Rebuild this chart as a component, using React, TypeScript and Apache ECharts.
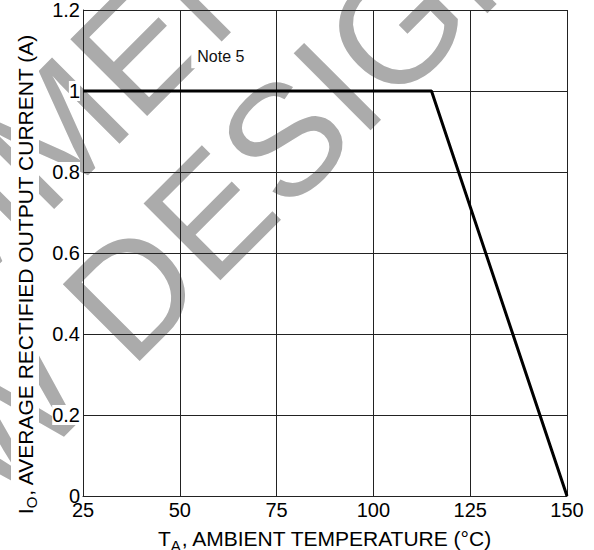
import React, { useEffect, useRef } from 'react';
import * as echarts from 'echarts';

// Data
const temps = [25, 115, 150];
const currents = [1, 1, 0];
const xTicks = [25, 50, 75, 100, 125, 150];
const yTicks = [0, 0.2, 0.4, 0.6, 0.8, 1, 1.2];
const noteText = 'Note 5';
const notePos = [60.6, 1.086];
const watermarkLines = ['NOT RECOMMENDED FOR', 'NEW DESIGN'];

const FONT = '"Liberation Sans", Arial, Helvetica, sans-serif';

export default function App() {
  const ref = useRef<HTMLDivElement>(null);
  useEffect(() => {
    const chart = echarts.init(ref.current!, null, { renderer: 'svg' });
    const xMin = xTicks[0];
    const xMax = xTicks[xTicks.length - 1];
    const yMin = yTicks[0];
    const yMax = yTicks[yTicks.length - 1];
    chart.setOption({
      animation: false,
      backgroundColor: '#fff',
      textStyle: { fontFamily: FONT },
      grid: {
        left: 83,
        right: 27,
        top: 10,
        bottom: 54,
        containLabel: false,
        outerBoundsMode: 'none',
      },
      xAxis: {
        type: 'value',
        z: 5,
        min: xMin,
        max: xMax,
        interval: xTicks[1] - xTicks[0],
        name: 'T{sub|A}, AMBIENT TEMPERATURE (°C)',
        nameLocation: 'middle',
        nameGap: 22,
        nameTextStyle: {
          fontSize: 21,
          color: '#000',
          fontFamily: FONT,
          lineHeight: 28,
          rich: { sub: { fontSize: 15, lineHeight: 16, verticalAlign: 'bottom', fontFamily: FONT, color: '#000' } },
        },
        axisLine: { lineStyle: { color: '#222', width: 1 } },
        axisTick: { show: false },
        axisLabel: { fontSize: 20, color: '#000', margin: 4, fontFamily: FONT },
        splitLine: { show: true, lineStyle: { color: '#222', width: 1 } },
      },
      yAxis: {
        type: 'value',
        z: 5,
        min: yMin,
        max: yMax,
        interval: 0.2,
        name: 'I{sub|O}, AVERAGE RECTIFIED OUTPUT CURRENT (A)',
        nameLocation: 'middle',
        nameGap: 44,
        nameTextStyle: {
          fontSize: 21,
          color: '#000',
          fontFamily: FONT,
          lineHeight: 28,
          backgroundColor: '#fff',
          padding: [0, 42, 0, 0],
          rich: { sub: { fontSize: 15, lineHeight: 16, verticalAlign: 'bottom', fontFamily: FONT, color: '#000' } },
        },
        axisLine: { show: true, lineStyle: { color: '#222', width: 1 } },
        axisTick: { show: false },
        axisLabel: {
          fontSize: 20,
          color: '#000',
          margin: 3,
          fontFamily: FONT,
          backgroundColor: '#fff',
          formatter: (v: number) => String(Math.round(v * 10) / 10),
        },
        splitLine: { show: true, lineStyle: { color: '#222', width: 1 } },
      },
      series: [
        {
          type: 'line',
          data: temps.map((t, i) => [t, currents[i]]),
          showSymbol: false,
          symbol: 'none',
          lineStyle: { color: '#000', width: 3 },
          z: 8,
        },
      ],
    });

    const [nx, ny] = chart.convertToPixel({ gridIndex: 0 }, notePos) as number[];
    const F = 158;
    const gap = 168;
    const c2 = [160, 263];
    const c1 = [c2[0] - 0.7071 * gap, c2[1] - 0.7071 * gap];
    chart.setOption({
      graphic: [
        {
          type: 'text',
          x: c1[0],
          y: c1[1],
          rotation: Math.PI / 4,
          z: 0,
          silent: true,
          style: {
            text: watermarkLines[0],
            fontSize: F,
            fontFamily: FONT,
            fill: '#ababab',
            align: 'center',
            verticalAlign: 'middle',
          },
        },
        {
          type: 'text',
          x: c2[0],
          y: c2[1],
          rotation: Math.PI / 4,
          z: 0,
          silent: true,
          style: {
            text: watermarkLines[1],
            fontSize: F,
            fontFamily: FONT,
            fill: '#ababab',
            align: 'center',
            verticalAlign: 'middle',
          },
        },
        {
          type: 'text',
          x: nx,
          y: ny,
          z: 100,
          silent: true,
          style: {
            text: noteText,
            fontSize: 16,
            fontFamily: FONT,
            fill: '#111',
            align: 'center',
            verticalAlign: 'middle',
            backgroundColor: '#fff',
            padding: [4, 6],
          },
        },
      ],
    });

    return () => {
      chart.dispose();
    };
  }, []);

  return (
    <div
      ref={ref}
      style={{ position: 'fixed', left: 0, top: 0, width: 594, height: 550 }}
    />
  );
}
